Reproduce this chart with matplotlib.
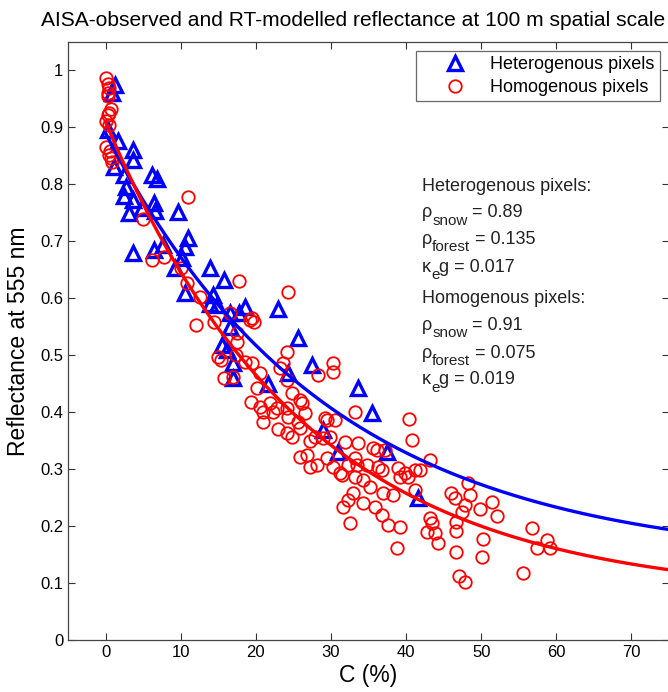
import numpy as np
import matplotlib
matplotlib.use('Agg')
import matplotlib.pyplot as plt

plt.rcParams['font.family'] = ['Liberation Sans', 'DejaVu Sans']

# heterogenous pixels (blue triangles): C (%), reflectance
het_c = [1.3, 0.9, 0.3, 1.7, 3.7, 3.6, 1.1, 2.4, 6.2, 6.9, 2.7, 2.4, 3.7, 6.4,
         3.1, 4.9, 6.6, 9.7, 3.7, 6.4, 7.7, 11.0, 10.6, 9.3, 10.2, 13.9, 15.7,
         10.6, 14.3, 13.9, 14.9, 16.6, 17.7, 16.6, 18.6, 23.0, 15.5, 16.2, 16.9,
         17.0, 21.6, 25.6, 24.3, 27.5, 33.6, 29.0, 31.0, 35.5, 37.5, 41.6]
het_r = [0.974, 0.960, 0.895, 0.877, 0.860, 0.842, 0.830, 0.816, 0.816, 0.810,
         0.795, 0.780, 0.772, 0.768, 0.749, 0.758, 0.754, 0.752, 0.680, 0.684,
         0.693, 0.705, 0.690, 0.654, 0.670, 0.653, 0.632, 0.609, 0.605, 0.590,
         0.588, 0.574, 0.575, 0.549, 0.584, 0.582, 0.518, 0.510, 0.486, 0.460,
         0.449, 0.530, 0.468, 0.482, 0.442, 0.368, 0.330, 0.398, 0.330, 0.249]

# homogenous pixels (red circles)
hom_c = [0.0, 0.3, 0.4, 0.3, 0.3, 0.7, 0.4, 0.3, 0.1, 0.4, 0.0, 0.4, 0.7, 0.9, 0.6,
         11.0, 5.0, 6.2, 7.8, 10.0, 10.9, 12.6, 12.0, 14.5, 16.5, 17.5, 17.8,
         24.3, 19.5, 19.2, 19.8, 17.5, 15.0, 15.3, 17.3, 18.6, 19.5, 20.6, 15.7,
         16.9, 20.2, 24.2, 23.6, 24.8, 24.2,
         23.2, 30.3, 30.3, 28.3, 25.9, 26.2, 19.3, 20.6, 21.9, 22.8, 24.2, 20.9,
         22.3, 21.0, 24.3, 25.6, 26.6, 29.2, 29.5, 30.5, 33.2, 22.9, 24.2, 24.8,
         25.9, 27.2, 27.9, 29.0, 29.9, 31.9, 25.9, 26.8, 27.2, 28.1, 29.5, 30.3,
         31.2, 32.3, 33.2, 33.5, 33.2, 33.0,
         40.4, 40.8, 33.6, 35.6, 36.1, 37.2, 43.2, 34.8, 36.3, 36.8, 38.9, 39.8,
         41.2, 41.8, 39.2, 40.2, 31.5, 34.3, 35.2, 41.2, 36.9, 38.2, 46.0, 46.5,
         32.3, 31.6, 34.3, 35.9, 36.8, 37.6, 39.2, 43.2, 43.4, 43.8, 42.8, 44.2,
         32.5, 38.8,
         48.2, 48.5, 47.8, 47.5, 51.5, 49.8, 52.1, 46.7, 46.7, 46.7, 50.2, 50.1,
         47.1, 47.9, 56.7, 58.7, 57.4, 59.1, 55.6]
hom_r = [0.986, 0.977, 0.970, 0.961, 0.956, 0.933, 0.926, 0.921, 0.912, 0.904,
         0.865, 0.851, 0.846, 0.839, 0.858,
         0.777, 0.739, 0.668, 0.672, 0.653, 0.626, 0.602, 0.553, 0.558, 0.574,
         0.539, 0.630, 0.611, 0.566, 0.561, 0.558, 0.523, 0.497, 0.491, 0.500,
         0.488, 0.486, 0.468, 0.460, 0.461, 0.442, 0.505, 0.486, 0.433, 0.456,
         0.477, 0.486, 0.470, 0.465, 0.421, 0.416, 0.418, 0.409, 0.416, 0.407,
         0.407, 0.400, 0.400, 0.383, 0.391, 0.383, 0.398, 0.390, 0.386, 0.386,
         0.400, 0.370, 0.363, 0.356, 0.372, 0.350, 0.356, 0.354, 0.356, 0.347,
         0.321, 0.325, 0.304, 0.307, 0.319, 0.304, 0.293, 0.307, 0.319, 0.307,
         0.286, 0.258,
         0.388, 0.351, 0.346, 0.337, 0.333, 0.333, 0.316, 0.307, 0.304, 0.298,
         0.302, 0.293, 0.298, 0.298, 0.286, 0.286, 0.289, 0.281, 0.268, 0.263,
         0.258, 0.254, 0.258, 0.249, 0.246, 0.233, 0.240, 0.233, 0.219, 0.202,
         0.198, 0.214, 0.205, 0.188, 0.189, 0.170, 0.205, 0.161,
         0.275, 0.254, 0.237, 0.225, 0.242, 0.230, 0.218, 0.207, 0.191, 0.154,
         0.177, 0.146, 0.112, 0.102, 0.196, 0.175, 0.161, 0.161, 0.118]

# model parameters shown on the chart
het_snow, het_forest, het_k = 0.89, 0.135, 0.017
hom_snow, hom_forest, hom_k = 0.91, 0.075, 0.019

c_model = np.linspace(0, 75, 300)
het_model = het_forest + (het_snow - het_forest) * np.exp(-2 * het_k * c_model)
hom_model = hom_forest + (hom_snow - hom_forest) * np.exp(-2 * hom_k * c_model)

fig = plt.figure(figsize=(6.68, 6.92), dpi=100)
ax = fig.add_axes([68 / 668, 52 / 692, 601 / 668, 598 / 692])

ax.plot(het_c, het_r, ls='none', marker='^', ms=9.5, mfc='none', mec='#0000ff',
        mew=2.4, label='Heterogenous pixels')
ax.plot(hom_c, hom_r, ls='none', marker='o', ms=9, mfc='none', mec='#ff0000',
        mew=1.3, label='Homogenous pixels')
ax.plot(c_model, het_model, color='#0000ff', lw=2.4)
ax.plot(c_model, hom_model, color='#ff0000', lw=2.4)

ax.set_xlim(-5, 75)
ax.set_ylim(0, 1.05)
ax.set_xticks(range(0, 71, 10))
ax.set_yticks(np.arange(0, 1.01, 0.1))
ax.set_yticklabels(['0', '0.1', '0.2', '0.3', '0.4', '0.5', '0.6', '0.7', '0.8', '0.9', '1'])
ax.tick_params(direction='in', top=True, right=True, length=5, width=0.8,
               labelsize=12, colors='#333333', labelcolor='black')
for s in ax.spines.values():
    s.set_color('#444444')
    s.set_linewidth(0.9)

ax.set_xlabel('C (%)', fontsize=16.5, labelpad=3)
ax.set_ylabel('Reflectance at 555 nm', fontsize=16.5, labelpad=7)
# title sits a bit left of the axes centre so it fits in the picture
fig.text(353 / 668, 1 - 21 / 692,
         'AISA-observed and RT-modelled reflectance at 100 m spatial scale',
         fontsize=15.1, ha='center', va='center')

leg = ax.legend(loc='upper right', fontsize=13, frameon=True, fancybox=False,
                borderaxespad=0.5, handlelength=3.7, handletextpad=0.1,
                borderpad=0.3, labelspacing=0.3)
leg.get_frame().set_edgecolor('#444444')
leg.get_frame().set_linewidth(0.9)


def param_text(x, y, base, sub, rest):
    # symbol, lowered subscript, then the rest back on the baseline
    t1 = ax.text(x, y, base, fontsize=13, va='baseline', ha='left', color='#222222')
    t2 = ax.annotate(sub, xy=(1, 0), xycoords=t1, xytext=(0, -4.5),
                     textcoords='offset points', va='bottom', ha='left',
                     fontsize=11, color='#222222')
    ax.annotate(rest, xy=(1, 0), xycoords=t2, xytext=(0, 4.5),
                textcoords='offset points', va='bottom', ha='left',
                fontsize=13, color='#222222')


tx = 42.1
ax.text(tx, 0.789, 'Heterogenous pixels:', fontsize=13, va='baseline', color='#222222')
param_text(tx, 0.742, u'\u03c1', 'snow', ' = %g' % het_snow)
param_text(tx, 0.695, u'\u03c1', 'forest', ' = %g' % het_forest)
param_text(tx, 0.647, u'\u03ba', 'e', 'g = %g' % het_k)
ax.text(tx, 0.591, 'Homogenous pixels:', fontsize=13, va='baseline', color='#222222')
param_text(tx, 0.544, u'\u03c1', 'snow', ' = %g' % hom_snow)
param_text(tx, 0.496, u'\u03c1', 'forest', ' = %g' % hom_forest)
param_text(tx, 0.449, u'\u03ba', 'e', 'g = %g' % hom_k)

fig.savefig('out.png', dpi=100)
